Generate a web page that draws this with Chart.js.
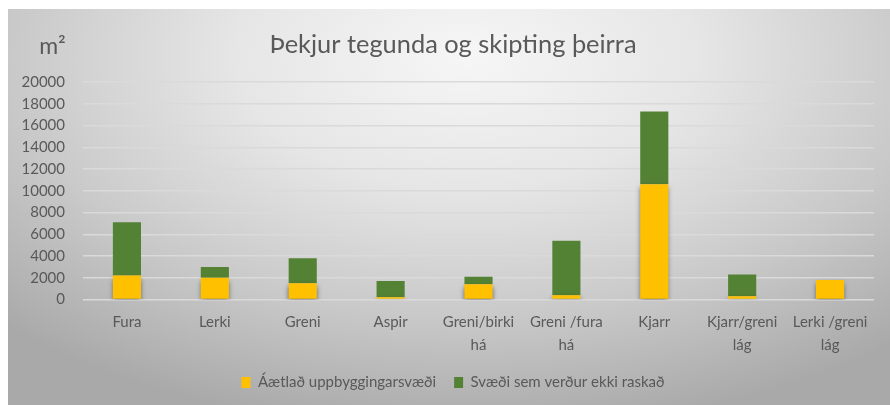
<!DOCTYPE html>
<html>
<head>
<meta charset="utf-8">
<script src="https://cdn.jsdelivr.net/npm/chart.js@4"></script>
<style>
  html, body { margin: 0; padding: 0; background: #fff; }
  body { width: 890px; height: 405px; position: relative; overflow: hidden; }
  #wrap {
    position: absolute; left: 8px; top: 9px; width: 882px; height: 396px;
    background: radial-gradient(ellipse 75% 95% at 52% 12%, #f6f6f6 0%, #e6e6e6 35%, #c8c8c8 70%, #a9a9a9 100%);
  }
</style>
</head>
<body>
<div id="wrap"><canvas id="chart"></canvas></div>
<script>
const categories = ["Fura", "Lerki", "Greni", "Aspir", ["Greni/birki", "há"], ["Greni /fura", "há"], "Kjarr", ["Kjarr/greni", "lág"], ["Lerki /greni", "lág"]];
const uppbygging = [2200, 2000, 1500, 200, 1400, 400, 10600, 300, 1800];
const ekkiRaskad = [4900, 1000, 2300, 1500, 700, 5000, 6700, 2000, 0];
const seriesNames = ["Áætlað uppbyggingarsvæði", "Svæði sem verður ekki raskað"];
const unitLabel = "m²";
const chartTitle = "Þekjur tegunda og skipting þeirra";

const textColor = "#595959";
const fontFamily = "Lato, 'Open Sans', sans-serif";

// drop shadow under the yellow bars
const barShadow = {
  id: "barShadow",
  beforeDatasetDraw(chart, args) {
    if (args.index !== 0) return;
    const ctx = chart.ctx;
    ctx.save();
    ctx.shadowColor = "rgba(0,0,0,0.55)";
    ctx.shadowBlur = 5;
    ctx.shadowOffsetY = 3;
  },
  afterDatasetDraw(chart, args) {
    if (args.index !== 0) return;
    chart.ctx.restore();
  }
};

// title and legend sit a bit right of the canvas centre in the original
const nudgeBlocks = {
  id: "nudgeBlocks",
  afterLayout(chart) {
    [chart.titleBlock, chart.legend].forEach(b => {
      if (!b) return;
      b.left += 12;
      b.right += 12;
    });
  }
};

const unitText = {
  id: "unitText",
  afterDraw(chart) {
    const ctx = chart.ctx;
    const a = chart.chartArea;
    ctx.save();
    ctx.fillStyle = textColor;
    ctx.font = "23px " + fontFamily;
    ctx.textAlign = "center";
    ctx.textBaseline = "middle";
    ctx.fillText(unitLabel, a.left - 30.5, a.top - 36);
    ctx.restore();
  }
};

Chart.defaults.font.family = fontFamily;
Chart.defaults.color = textColor;

new Chart(document.getElementById("chart"), {
  type: "bar",
  data: {
    labels: categories,
    datasets: [
      { label: seriesNames[0], data: uppbygging, backgroundColor: "#FFC000" },
      { label: seriesNames[1], data: ekkiRaskad, backgroundColor: "#548235" }
    ]
  },
  options: {
    responsive: true,
    maintainAspectRatio: false,
    animation: false,
    barPercentage: 0.32,
    categoryPercentage: 1,
    layout: { padding: { left: 0, right: 16, top: 0, bottom: 5 } },
    scales: {
      x: {
        stacked: true,
        grid: { display: false, drawTicks: false },
        border: { display: false },
        ticks: { padding: 11.5, maxRotation: 0, autoSkip: false, color: textColor, font: { size: 15, lineHeight: 1.53 } },
        afterFit(scale) { scale.height = 57.5; }
      },
      y: {
        stacked: true,
        min: 0,
        max: 20000,
        grid: { color: "#dadada", lineWidth: 1.5, drawTicks: false },
        border: { display: false },
        ticks: {
          stepSize: 2000,
          autoSkip: false,
          padding: 18,
          color: textColor,
          font: { size: 15 },
          callback: v => String(v)
        },
        afterFit(scale) { scale.width = 75; }
      }
    },
    plugins: {
      title: {
        display: true,
        text: chartTitle,
        color: textColor,
        font: { size: 25.4, weight: "normal" },
        padding: { top: 20.3, bottom: 22.3 }
      },
      legend: {
        position: "bottom",
        labels: { boxWidth: 9, boxHeight: 11, padding: 18, color: textColor, font: { size: 15 } }
      },
      tooltip: { enabled: false }
    }
  },
  plugins: [barShadow, nudgeBlocks, unitText]
});
</script>
</body>
</html>
